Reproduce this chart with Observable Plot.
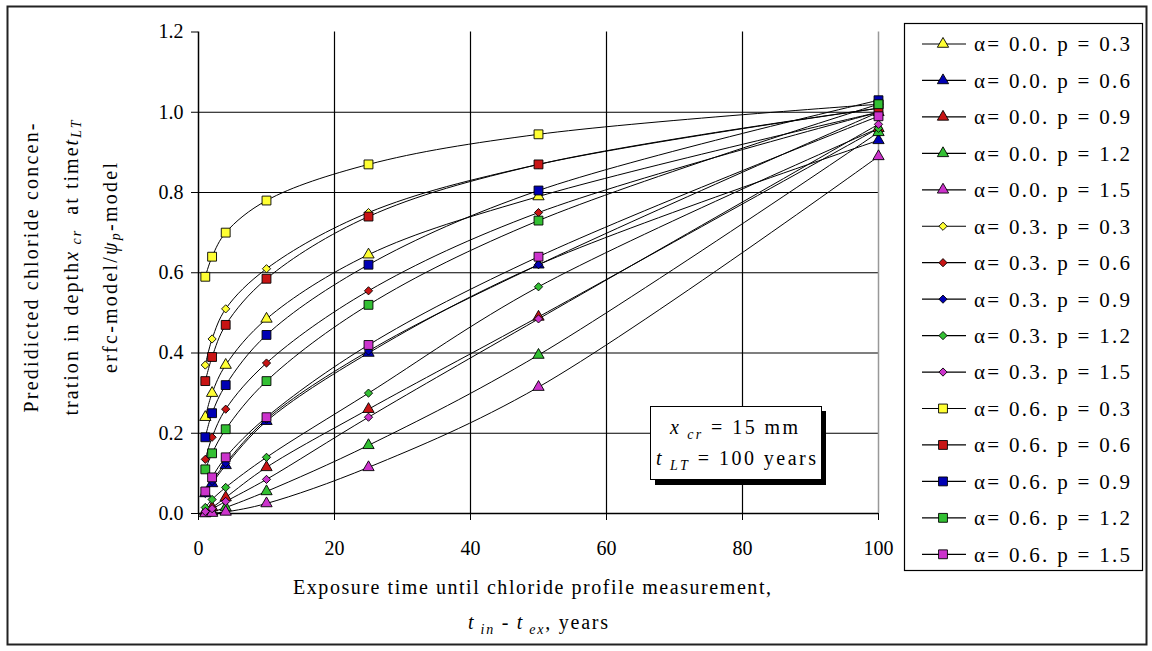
<!DOCTYPE html>
<html><head><meta charset="utf-8">
<script src="https://cdn.jsdelivr.net/npm/d3@7"></script>
<script src="https://cdn.jsdelivr.net/npm/@observablehq/plot@0.6"></script>
<style>
body{margin:0;background:#fff;}
#chart svg{display:block;}
#chart svg text{font-family: "Liberation Serif", "DejaVu Serif", Times, serif;}
</style></head><body><div id="chart"></div>
<script>
// ---- data ----
const times = [1, 2, 4, 10, 25, 50, 100];
const xTicks = [0, 20, 40, 60, 80, 100];
const yTicks = [0, 0.2, 0.4, 0.6, 0.8, 1.0, 1.2];

const seriesNames = [
  "α= 0.0. p = 0.3", "α= 0.0. p = 0.6", "α= 0.0. p = 0.9", "α= 0.0. p = 1.2", "α= 0.0. p = 1.5",
  "α= 0.3. p = 0.3", "α= 0.3. p = 0.6", "α= 0.3. p = 0.9", "α= 0.3. p = 1.2", "α= 0.3. p = 1.5",
  "α= 0.6. p = 0.3", "α= 0.6. p = 0.6", "α= 0.6. p = 0.9", "α= 0.6. p = 1.2", "α= 0.6. p = 1.5"
];
const seriesAlpha = [0,0,0,0,0, 0.3,0.3,0.3,0.3,0.3, 0.6,0.6,0.6,0.6,0.6];
const seriesColors = [
  "#ffff33", "#0000b4", "#c81414", "#33c033", "#cc33cc",
  "#ffff33", "#c81414", "#0000b4", "#33c033", "#cc33cc",
  "#ffff33", "#c81414", "#0000b4", "#33c033", "#cc33cc"
];

const a00_p03 = [0.24, 0.30, 0.37, 0.485, 0.645, 0.79, 1.00];
const a00_p06 = [0.05, 0.075, 0.12, 0.23, 0.40, 0.62, 0.93];
const a00_p09 = [0.005, 0.015, 0.04, 0.115, 0.26, 0.49, 0.96];
const a00_p12 = [0.001, 0.004, 0.015, 0.055, 0.17, 0.395, 0.95];
const a00_p15 = [0.0, 0.001, 0.004, 0.025, 0.115, 0.315, 0.89];
const a03_p03 = [0.37, 0.435, 0.51, 0.61, 0.75, 0.87, 1.01];
const a03_p06 = [0.135, 0.19, 0.26, 0.375, 0.555, 0.75, 1.00];
const a03_p09 = [0.05, 0.08, 0.125, 0.235, 0.405, 0.62, 1.00];
const a03_p12 = [0.015, 0.035, 0.065, 0.14, 0.30, 0.565, 0.96];
const a03_p15 = [0.005, 0.012, 0.03, 0.085, 0.24, 0.485, 0.97];
const a06_p03 = [0.59, 0.64, 0.70, 0.78, 0.87, 0.945, 1.02];
const a06_p06 = [0.33, 0.39, 0.47, 0.585, 0.74, 0.87, 1.01];
const a06_p09 = [0.19, 0.25, 0.32, 0.445, 0.62, 0.805, 1.03];
const a06_p12 = [0.11, 0.15, 0.21, 0.33, 0.52, 0.73, 1.02];
const a06_p15 = [0.055, 0.09, 0.14, 0.24, 0.42, 0.64, 0.99];

const seriesValues = [a00_p03, a00_p06, a00_p09, a00_p12, a00_p15,
                      a03_p03, a03_p06, a03_p09, a03_p12, a03_p15,
                      a06_p03, a06_p06, a06_p09, a06_p12, a06_p15];

// ---- build table ----
const rows = seriesValues.flatMap((vals, i) => times.map((t, j) => ({
  series: i, name: seriesNames[i], alpha: seriesAlpha[i], color: seriesColors[i], t, v: vals[j]
})));

const FONT = "Liberation Serif, DejaVu Serif, Times, serif";
const symbolFor = a => a === 0 ? "triangle" : a === 0.3 ? "diamond2" : "square";
const rFor = a => a === 0 ? 4.2 : a === 0.3 ? 3.7 : 5;

const plot = Plot.plot({
  width: 1152, height: 651,
  marginLeft: 198, marginRight: 274, marginTop: 31.5, marginBottom: 138,
  style: {fontFamily: FONT, fontSize: "20px", color: "black", background: "white", overflow: "visible"},
  x: {domain: [0, 100], ticks: xTicks, tickSize: 7, tickPadding: 20, tickFormat: d => String(d), label: null},
  y: {domain: [0, 1.2], ticks: yTicks, tickSize: 7, tickPadding: 8, tickFormat: d3.format(".1f"), label: null},
  color: {type: "identity"},
  marks: [
    Plot.ruleX(xTicks.filter(d => d > 0 && d < 100), {stroke: "black", strokeWidth: 1.2}),
    Plot.ruleY(yTicks.filter(d => d > 0 && d < 1.2), {stroke: "black", strokeWidth: 1.2}),
    Plot.ruleX([100], {stroke: "#999", strokeWidth: 1.5}),
    Plot.ruleX([0], {stroke: "black", strokeWidth: 1.5}),
    Plot.ruleY([0], {stroke: "black", strokeWidth: 1.5}),
    Plot.line(rows, {x: "t", y: "v", z: "series", stroke: "black", strokeWidth: 1, curve: "catmull-rom"}),
    ...[0, 0.3, 0.6].map(a => Plot.dot(rows.filter(d => d.alpha === a), {
      x: "t", y: "v", fill: "color", stroke: "black", strokeWidth: 0.9,
      symbol: symbolFor(a), r: rFor(a)
    }))
  ]
});

document.getElementById("chart").appendChild(plot);
const svg = d3.select(plot);

// outer frame
svg.append("rect").attr("x", 7.5).attr("y", 6.5).attr("width", 1139).attr("height", 638)
  .attr("fill", "none").attr("stroke", "#222").attr("stroke-width", 2);

// helper to add text with sub/italic parts
function richText(g, parts, attrs) {
  const t = g.append("text").attr("font-family", FONT).attr("font-size", 20).attr("fill", "black")
    .attr("text-anchor", "start");
  Object.entries(attrs).forEach(([k, v]) => t.attr(k, v));
  for (const p of parts) {
    const ts = t.append("tspan").text(p.text);
    if (p.italic) ts.attr("font-style", "italic");
    if (p.sub) ts.attr("font-size", 14).attr("dy", 5);
    if (p.up) ts.attr("dy", -5);
  }
  return t;
}

// y axis title (three rotated lines)
const yl = [
  {x: 33, len: 289, parts: [{text: "Predidicted chloride concen-"}]},
  {x: 73, len: 295, parts: [{text: "tration in depth"}, {text: "x", italic: true}, {text: " cr", sub: true, italic: true}, {text: "  at time", up: true}, {text: "t", italic: true}, {text: "LT", sub: true, italic: true}]},
  {x: 112, len: 210, parts: [{text: "erfc-model/"}, {text: "ψ", italic: true}, {text: "p", sub: true, italic: true}, {text: "-model", up: true}]}
];
for (const l of yl) {
  const g = svg.append("g").attr("transform", `translate(${l.x},268) rotate(-90)`);
  richText(g, l.parts, {"text-anchor": "middle", "dominant-baseline": "middle", textLength: l.len, lengthAdjust: "spacing"});
}

// x axis title
richText(svg, [{text: "Exposure time until chloride profile measurement,"}],
  {x: 532, y: 594, "text-anchor": "middle", textLength: 478, lengthAdjust: "spacing"});
richText(svg, [{text: "t", italic: true}, {text: " in", sub: true, italic: true}, {text: " - ", up: true}, {text: "t", italic: true}, {text: " ex", sub: true, italic: true}, {text: ", years", up: true}],
  {x: 538, y: 629, "text-anchor": "middle", textLength: 140, lengthAdjust: "spacing"});

// annotation box with shadow
svg.append("rect").attr("x", 655).attr("y", 411).attr("width", 171).attr("height", 74).attr("fill", "black");
svg.append("rect").attr("x", 650.5).attr("y", 406.5).attr("width", 171).attr("height", 73).attr("fill", "white").attr("stroke", "black").attr("stroke-width", 1);
richText(svg, [{text: "x", italic: true}, {text: " cr", sub: true, italic: true}, {text: " = 15 mm", up: true}],
  {x: 670, y: 434, textLength: 128, lengthAdjust: "spacing"});
richText(svg, [{text: "t", italic: true}, {text: " LT", sub: true, italic: true}, {text: " = 100 years", up: true}],
  {x: 656, y: 465, textLength: 160, lengthAdjust: "spacing"});

// legend
svg.append("rect").attr("x", 904.5).attr("y", 23.5).attr("width", 238).attr("height", 547)
  .attr("fill", "white").attr("stroke", "black").attr("stroke-width", 1.2);
const d3sym = {triangle: d3.symbolTriangle, diamond2: d3.symbolDiamond2, square: d3.symbolSquare};
seriesNames.forEach((name, i) => {
  const y = 44 + i * 36.45;
  svg.append("line").attr("x1", 922).attr("x2", 966).attr("y1", y).attr("y2", y).attr("stroke", "black").attr("stroke-width", 1.2);
  const a = seriesAlpha[i];
  const r = rFor(a);
  svg.append("path").attr("d", d3.symbol(d3sym[symbolFor(a)], Math.PI * r * r)())
    .attr("transform", `translate(943,${y})`).attr("fill", seriesColors[i]).attr("stroke", "black").attr("stroke-width", 0.9);
  svg.append("text").attr("x", 974).attr("y", y).attr("dy", "0.35em").attr("text-anchor", "start")
    .attr("font-family", FONT).attr("font-size", 21)
    .attr("textLength", 156).attr("lengthAdjust", "spacing").text(name);
});
</script>
</body></html>
